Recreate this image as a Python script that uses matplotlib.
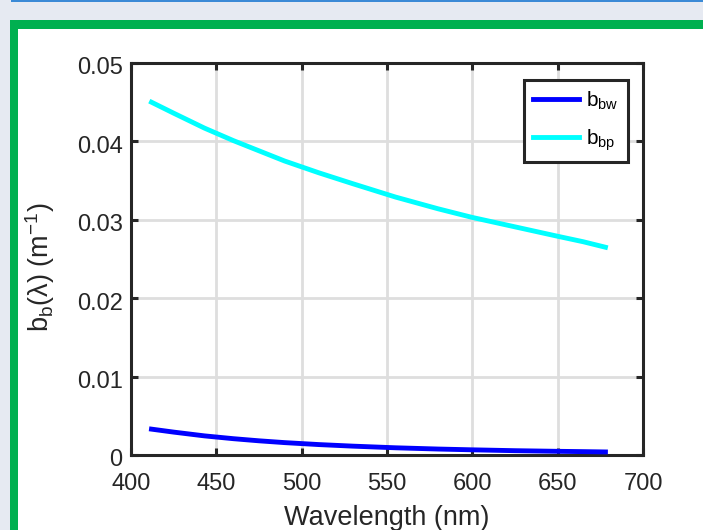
import matplotlib
matplotlib.use('Agg')
import matplotlib.pyplot as plt
from matplotlib.patches import Rectangle
from matplotlib.transforms import ScaledTranslation

plt.rcParams['font.family'] = ['Liberation Sans', 'DejaVu Sans']
plt.rcParams['mathtext.fontset'] = 'custom'
plt.rcParams['mathtext.rm'] = 'Liberation Sans'
plt.rcParams['mathtext.it'] = 'Liberation Sans:italic'

# dati
wavelength = [412, 425, 443, 460, 475, 490, 510, 530, 555, 580, 600, 625, 650, 665, 678]
b_bw = [0.00330, 0.00292, 0.00244, 0.00208, 0.00181, 0.00158, 0.00133, 0.00113,
        0.00092, 0.00076, 0.00066, 0.00055, 0.00047, 0.00043, 0.00039]
b_bp = [0.0450, 0.0436, 0.0417, 0.0401, 0.0388, 0.0375, 0.0360, 0.0346,
        0.0329, 0.0314, 0.0303, 0.0291, 0.0279, 0.0272, 0.0265]
xticks = [400, 450, 500, 550, 600, 650, 700]
yticks = [0, 0.01, 0.02, 0.03, 0.04, 0.05]
ytick_labels = ['0', '0.01', '0.02', '0.03', '0.04', '0.05']

fig = plt.figure(figsize=(7.03, 5.30), dpi=100, facecolor='#e6eaf2')

# cornice verde e linea blu in alto
fig.patches.append(Rectangle((11/703, 1 - 2/530), 1, 2/530, transform=fig.transFigure,
                             facecolor='#3b8ad6', edgecolor='none', zorder=-5))
fig.patches.append(Rectangle((10/703, -0.1), 1, 1.1 - 20/530, transform=fig.transFigure,
                             facecolor='#00b050', edgecolor='none', zorder=-5))
fig.patches.append(Rectangle((18/703, -0.1), 1, 1.1 - 29/530, transform=fig.transFigure,
                             facecolor='white', edgecolor='none', zorder=-4))

ax = fig.add_axes([131/703, 1 - 455/530, 512/703, 392/530])
ax.set_facecolor('white')
ax.set_zorder(2)

ax.plot(wavelength, b_bw, color='#0000ff', lw=3.5, label=r'b$_{\mathregular{bw}}$', zorder=3)
ax.plot(wavelength, b_bp, color='#00ffff', lw=3.5, label=r'b$_{\mathregular{bp}}$', zorder=3)

ax.set_xlim(400, 700)
ax.set_ylim(0, 0.05)
ax.set_xticks(xticks)
ax.set_xticklabels([str(t) for t in xticks])
ax.set_yticks(yticks)
ax.set_yticklabels(ytick_labels)

ax.grid(True, color='#dedede', lw=2)
ax.set_axisbelow(True)
for s in ax.spines.values():
    s.set_linewidth(2.2)
    s.set_color('#262626')
ax.tick_params(direction='in', length=5, width=2.2, color='#262626',
               top=True, right=True, labelsize=17, labelcolor='#262626')
ax.tick_params(axis='x', pad=13)
ax.tick_params(axis='y', pad=6)

# etichette y un po' piu' in basso, come in MATLAB
shift = ScaledTranslation(0, -3/100, fig.dpi_scale_trans)
for lab in ax.get_yticklabels():
    lab.set_transform(lab.get_transform() + shift)

ax.set_xlabel('Wavelength (nm)', fontsize=19.5, color='#262626')
ax.xaxis.set_label_coords(0.5, -0.128)
ax.set_ylabel(r'b$_{\mathregular{b}}$(λ) (m$^{\mathregular{-1}}$)', fontsize=19.5,
              color='#262626')
ax.yaxis.set_label_coords(-0.145, 0.48)

leg = ax.legend(loc='upper right', bbox_to_anchor=(0.971, 0.957), fontsize=15,
                fancybox=False, framealpha=1, edgecolor='#262626', borderaxespad=0,
                handlelength=2.2, labelspacing=0.75, borderpad=0.45, handletextpad=0.35)
leg.get_frame().set_linewidth(2.2)

fig.savefig('out.png', dpi=100, facecolor=fig.get_facecolor())
